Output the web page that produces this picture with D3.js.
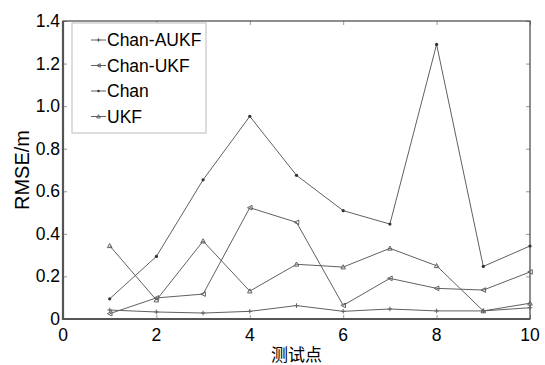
<!DOCTYPE html>
<html>
<head>
<meta charset="utf-8">
<script src="https://cdn.jsdelivr.net/npm/d3@7"></script>
<style>
body { margin: 0; background: #fff; }
text { font-family: "Liberation Sans", Arial, sans-serif; }
</style>
</head>
<body>
<div id="chart"></div>
<script>
// test points and RMSE values
var points = [1, 2, 3, 4, 5, 6, 7, 8, 9, 10];
var chanAukf = [0.042, 0.033, 0.028, 0.036, 0.063, 0.036, 0.047, 0.038, 0.038, 0.053];
var chanUkf  = [0.025, 0.099, 0.117, 0.523, 0.454, 0.064, 0.191, 0.144, 0.136, 0.221];
var chan     = [0.095, 0.294, 0.654, 0.952, 0.675, 0.509, 0.446, 1.290, 0.247, 0.343];
var ukf      = [0.344, 0.089, 0.366, 0.131, 0.257, 0.244, 0.332, 0.250, 0.038, 0.074];
var seriesNames = ["Chan-AUKF", "Chan-UKF", "Chan", "UKF"];
var xTicks = [0, 2, 4, 6, 8, 10];
var yTicks = [0, 0.2, 0.4, 0.6, 0.8, 1.0, 1.2, 1.4];

var width = 545, height = 365;
var margin = {left: 63, right: 15, top: 21, bottom: 46};
var lineColor = "#606060";

var svg = d3.select("#chart").append("svg")
	.attr("width", width)
	.attr("height", height);

var x = d3.scaleLinear().domain([0, 10]).range([margin.left, width - margin.right]);
var y = d3.scaleLinear().domain([0, 1.4]).range([height - margin.bottom, margin.top]);

// inward ticks on all four sides
var tickLen = 4;
svg.append("g").attr("transform", "translate(0," + y(0) + ")")
	.call(d3.axisBottom(x).tickValues(xTicks).tickSize(-tickLen).tickFormat(""));
svg.append("g").attr("transform", "translate(0," + y(1.4) + ")")
	.call(d3.axisTop(x).tickValues(xTicks).tickSize(-tickLen).tickFormat(""));
svg.append("g").attr("transform", "translate(" + x(0) + ",0)")
	.call(d3.axisLeft(y).tickValues(yTicks).tickSize(-tickLen).tickFormat(""));
svg.append("g").attr("transform", "translate(" + x(10) + ",0)")
	.call(d3.axisRight(y).tickValues(yTicks).tickSize(-tickLen).tickFormat(""));
svg.selectAll(".domain").remove();
svg.selectAll(".tick line").attr("stroke", "#999").attr("stroke-width", 1);

// frame
svg.append("rect")
	.attr("x", x(0)).attr("y", y(1.4))
	.attr("width", x(10) - x(0)).attr("height", y(0) - y(1.4))
	.attr("fill", "none").attr("stroke", "#444").attr("stroke-width", 1.2);
svg.append("path")
	.attr("d", "M" + x(0) + "," + y(1.4) + "V" + y(0) + "H" + x(10))
	.attr("fill", "none").attr("stroke", "#555").attr("stroke-width", 2.2);

// tick labels
svg.append("g").selectAll("text").data(xTicks).enter().append("text")
	.attr("x", function(d){ return x(d); })
	.attr("y", y(0) + 22)
	.attr("text-anchor", "middle")
	.attr("font-size", 17.5)
	.text(function(d){ return d; });

svg.append("g").selectAll("text").data(yTicks).enter().append("text")
	.attr("x", x(0) - 3)
	.attr("y", function(d){ return y(d) + 6; })
	.attr("text-anchor", "end")
	.attr("font-size", 17.5)
	.text(function(d){ return d === 0 ? "0" : d.toFixed(1); });

// axis titles
svg.append("text")
	.attr("x", (x(0) + x(10)) / 2)
	.attr("y", 361)
	.attr("text-anchor", "middle")
	.attr("font-size", 17)
	.style("font-family", "'Noto Sans CJK SC', sans-serif")
	.text("测试点");

svg.append("text")
	.attr("transform", "translate(29," + ((y(0) + y(1.4)) / 2) + ") rotate(-90)")
	.attr("text-anchor", "middle")
	.attr("font-size", 20)
	.text("RMSE/m");

// marker drawers
function drawPlus(g, cx, cy, s) {
	g.append("path").attr("d", "M" + (cx - s) + "," + cy + "H" + (cx + s) + "M" + cx + "," + (cy - s) + "V" + (cy + s))
		.attr("stroke", lineColor).attr("fill", "none");
}
function drawLeftTri(g, cx, cy, s) {
	g.append("path").attr("d", "M" + (cx - s) + "," + cy + "L" + (cx + s) + "," + (cy - s) + "L" + (cx + s) + "," + (cy + s) + "Z")
		.attr("stroke", lineColor).attr("fill", "none");
}
function drawStar(g, cx, cy, s) {
	g.append("circle").attr("cx", cx).attr("cy", cy).attr("r", s * 0.7).attr("fill", "#333");
}
function drawUpTri(g, cx, cy, s) {
	g.append("path").attr("d", "M" + cx + "," + (cy - s) + "L" + (cx + s) + "," + (cy + s * 0.8) + "L" + (cx - s) + "," + (cy + s * 0.8) + "Z")
		.attr("stroke", lineColor).attr("fill", "none");
}

var allSeries = [chanAukf, chanUkf, chan, ukf];
var markers = [drawPlus, drawLeftTri, drawStar, drawUpTri];

var line = d3.line()
	.x(function(d, i){ return x(points[i]); })
	.y(function(d){ return y(d); });

allSeries.forEach(function(vals, k) {
	var g = svg.append("g");
	g.append("path")
		.datum(vals)
		.attr("d", line)
		.attr("fill", "none")
		.attr("stroke", lineColor)
		.attr("stroke-width", 1);
	vals.forEach(function(v, i) {
		markers[k](g, x(points[i]), y(v), 2.3);
	});
});

// legend
var legend = svg.append("g");
legend.append("rect")
	.attr("x", 72).attr("y", 23)
	.attr("width", 134).attr("height", 110)
	.attr("fill", "#fff").attr("stroke", "#bbb").attr("stroke-width", 1);
seriesNames.forEach(function(name, k) {
	var ly = 40 + k * 25.5;
	legend.append("path")
		.attr("d", "M91," + ly + "H106")
		.attr("stroke", lineColor).attr("stroke-width", 1);
	markers[k](legend, 98.5, ly, 1.8);
	legend.append("text")
		.attr("x", 107).attr("y", ly + 6)
		.attr("font-size", 17.5)
		.text(name);
});
</script>
</body>
</html>
